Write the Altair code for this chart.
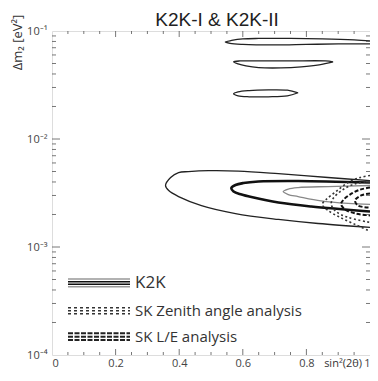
import altair as alt
import pandas as pd

# ---- contour data: sin^2(2θ) and Δm² [eV²] ----
k2k_outer_x = [1.0, 0.868, 0.712, 0.586, 0.492, 0.429, 0.398, 0.373, 0.357, 0.367, 0.398, 0.470, 0.577, 0.712, 0.837, 1.0]
k2k_outer_y = [4.12e-3, 4.40e-3, 4.78e-3, 5.05e-3, 5.09e-3, 4.99e-3, 4.89e-3, 4.40e-3, 3.71e-3, 3.33e-3, 2.93e-3, 2.42e-3, 2.04e-3, 1.80e-3, 1.65e-3, 1.52e-3]

k2k_thick_x = [1.0, 0.774, 0.649, 0.602, 0.577, 0.564, 0.571, 0.596, 0.627, 0.712, 0.815, 1.0]
k2k_thick_y = [3.95e-3, 4.08e-3, 4.04e-3, 3.91e-3, 3.75e-3, 3.52e-3, 3.26e-3, 3.06e-3, 2.90e-3, 2.58e-3, 2.37e-3, 2.13e-3]

k2k_inner_x = [1.0, 0.868, 0.774, 0.743, 0.727, 0.743, 0.774, 0.846, 0.931, 1.0]
k2k_inner_y = [3.71e-3, 3.63e-3, 3.55e-3, 3.44e-3, 3.26e-3, 3.06e-3, 2.93e-3, 2.67e-3, 2.53e-3, 2.48e-3]

island1_x = [1.0, 0.95, 0.85, 0.75, 0.65, 0.60, 0.565, 0.545, 0.56, 0.60, 0.70, 0.80, 0.90, 1.0]
island1_y = [0.0809, 0.0826, 0.0844, 0.0853, 0.0853, 0.0844, 0.0817, 0.0791, 0.0767, 0.0751, 0.0743, 0.0751, 0.0759, 0.0759]

island2_x = [0.884, 0.86, 0.75, 0.65, 0.59, 0.571, 0.585, 0.61, 0.65, 0.72, 0.784, 0.84, 0.884]
island2_y = [0.0517, 0.0528, 0.0528, 0.0528, 0.0528, 0.0517, 0.0496, 0.0475, 0.0458, 0.0455, 0.0465, 0.0485, 0.0517]

island3_x = [0.774, 0.74, 0.68, 0.62, 0.585, 0.571, 0.585, 0.62, 0.68, 0.74, 0.774]
island3_y = [0.0268, 0.0283, 0.0285, 0.0281, 0.0273, 0.0262, 0.0251, 0.0246, 0.0246, 0.0251, 0.0268]

skz_outer_x = [1.0, 0.969, 0.931, 0.893, 0.862, 0.850, 0.868, 0.906, 0.953, 1.0]
skz_outer_y = [4.59e-3, 4.40e-3, 3.95e-3, 3.26e-3, 2.75e-3, 2.48e-3, 2.18e-3, 1.88e-3, 1.62e-3, 1.40e-3]
skz_inner_x = [1.0, 0.956, 0.915, 0.884, 0.878, 0.893, 0.931, 1.0]
skz_inner_y = [4.04e-3, 3.87e-3, 3.40e-3, 2.81e-3, 2.48e-3, 2.13e-3, 1.88e-3, 1.69e-3]

skle_outer_x = [1.0, 0.969, 0.937, 0.915, 0.909, 0.922, 0.956, 1.0]
skle_outer_y = [3.55e-3, 3.40e-3, 3.06e-3, 2.70e-3, 2.48e-3, 2.22e-3, 2.04e-3, 1.96e-3]
skle_inner_x = [1.0, 0.972, 0.953, 0.962, 1.0]
skle_inner_y = [3.13e-3, 3.00e-3, 2.70e-3, 2.42e-3, 2.32e-3]

x_tick_labels = [0, 0.2, 0.4, 0.6, 0.8, 1.0]
y_tick_labels = [1e-4, 1e-3, 1e-2, 1e-1]
legend_labels = ["K2K", "SK Zenith angle analysis", "SK L/E analysis"]
chart_title = "K2K-I & K2K-II"
x_title = "sin²(2θ)"
y_title = "Δm₂ [eV²]"

contours = [
    ("k2k_outer", "thin", k2k_outer_x, k2k_outer_y),
    ("k2k_thick", "thick", k2k_thick_x, k2k_thick_y),
    ("k2k_inner", "gray", k2k_inner_x, k2k_inner_y),
    ("island1", "thin", island1_x, island1_y),
    ("island2", "thin", island2_x, island2_y),
    ("island3", "thin", island3_x, island3_y),
    ("skz_outer", "dotted", skz_outer_x, skz_outer_y),
    ("skz_inner", "dotted", skz_inner_x, skz_inner_y),
    ("skle_outer", "dashed", skle_outer_x, skle_outer_y),
    ("skle_inner", "dashed", skle_inner_x, skle_inner_y),
]
rows = []
for name, style, xs, ys in contours:
    for i, (a, b) in enumerate(zip(xs, ys)):
        rows.append({"contour": name, "style": style, "order": i, "s": a, "dm": b})
df = pd.DataFrame(rows)

W, H = 318, 324
FONT = "Open Sans"
AX = "#555"

x_scale = alt.Scale(domain=[0, 1], nice=False, zero=False)
y_scale = alt.Scale(type="log", domain=[1e-4, 1e-1], nice=False)

x_axis = alt.Axis(values=x_tick_labels, format=".1~f", ticks=False, domain=False, grid=False,
                  labelFontSize=11, labelColor="#444", labelPadding=2, labelFont=FONT,
                  title=None)
y_axis = alt.Axis(values=y_tick_labels, ticks=False, domain=False, grid=False,
                  labelExpr="datum.value > 0.05 ? '10⁻¹' : datum.value > 0.005 ? '10⁻²' : datum.value > 0.0005 ? '10⁻³' : '10⁻⁴'",
                  labelFontSize=11, labelColor="#444", labelPadding=5, labelFont=FONT,
                  title=y_title, titleFont=FONT, titleFontSize=13, titleFontWeight="normal",
                  titleColor="#333", titleX=-35, titleY=11, titleAlign="center", titleBaseline="middle")

X = alt.X("s:Q", scale=x_scale, axis=x_axis)
Y = alt.Y("dm:Q", scale=y_scale, axis=y_axis)

def contour_layer(style, color, width, dash=None):
    kw = dict(color=color, strokeWidth=width, interpolate="catmull-rom", clip=True)
    if dash:
        kw["strokeDash"] = dash
    return (alt.Chart(df).transform_filter(alt.datum.style == style)
            .mark_line(**kw)
            .encode(x=X, y=Y, detail="contour:N", order="order:Q"))

layers = [
    contour_layer("thin", "#222", 1.3),
    contour_layer("gray", "#888", 1.3),
    contour_layer("thick", "#111", 2.6),
    contour_layer("dotted", "#333", 1.6, [2, 2.5]),
    contour_layer("dashed", "#111", 2.0, [4, 2]),
]

# inward ticks
x_minor = pd.DataFrame({"s": [i * 0.05 for i in range(1, 20) if i % 4 != 0]})
x_major = pd.DataFrame({"s": [0.2, 0.4, 0.6, 0.8]})
y_minor = pd.DataFrame({"dm": [m * 10.0 ** e for e in (-4, -3, -2) for m in range(2, 10)]})
y_major = pd.DataFrame({"dm": [1e-3, 1e-2]})

def xt(d, y0, y1):
    return alt.Chart(d).mark_rule(color=AX, strokeWidth=0.8).encode(x=X, y=alt.value(y0), y2=alt.value(y1))

def yt(d, x0, x1):
    return alt.Chart(d).mark_rule(color=AX, strokeWidth=0.8).encode(y=Y, x=alt.value(x0), x2=alt.value(x1))

layers += [
    xt(x_minor, H, H - 3), xt(x_major, H, H - 6), xt(x_minor, 0, 3), xt(x_major, 0, 6),
    yt(y_minor, 0, 4), yt(y_major, 0, 8), yt(y_minor, W, W - 4), yt(y_major, W, W - 8),
]

# manual legend
one = pd.DataFrame({"k": [0]})
LX0, LX1 = 16, 78

def lrule(y, color, width, dash=None):
    kw = dict(color=color, strokeWidth=width)
    if dash:
        kw["strokeDash"] = dash
    return alt.Chart(one).mark_rule(**kw).encode(x=alt.value(LX0), x2=alt.value(LX1), y=alt.value(y))

layers += [
    lrule(248, "#999", 1.6), lrule(250.8, "#111", 1.6), lrule(253.2, "#111", 1.6), lrule(255.8, "#999", 1.6),
    lrule(276.7, "#333", 1.6, [3, 3]), lrule(279.7, "#333", 1.6, [3, 3]), lrule(282.7, "#333", 1.6, [3, 3]),
    lrule(302.3, "#222", 2.0, [5, 1.5]), lrule(305.7, "#222", 2.0, [5, 1.5]), lrule(309, "#222", 2.0, [5, 1.5]),
]
for label, ly, fs in zip(legend_labels, [251.5, 280, 306], [17, 15, 15]):
    layers.append(
        alt.Chart(one).mark_text(align="left", baseline="middle", fontSize=fs, font=FONT, color="#333")
        .encode(x=alt.value(83), y=alt.value(ly), text=alt.value(label))
    )

# chart title and x-axis title as text
layers.append(
    alt.Chart(one).mark_text(align="center", baseline="alphabetic", fontSize=19,
                             font="Liberation Sans", color="#222")
    .encode(x=alt.value(165), y=alt.value(-5.5), text=alt.value(chart_title))
)
layers.append(
    alt.Chart(one).mark_text(align="right", baseline="middle", fontSize=11, font=FONT, color="#333")
    .encode(x=alt.value(W - 8), y=alt.value(H + 9), text=alt.value(x_title))
)

chart = (
    alt.layer(*layers)
    .properties(
        width=W, height=H,
        autosize=alt.AutoSizeParams(type="none"),
        padding={"left": 44, "top": 23, "right": 0, "bottom": 17},
    )
    .configure_view(stroke=AX, strokeWidth=1)
    .configure(background="white")
)

chart.save("out.html", embed_options={"renderer": "svg", "actions": False})
